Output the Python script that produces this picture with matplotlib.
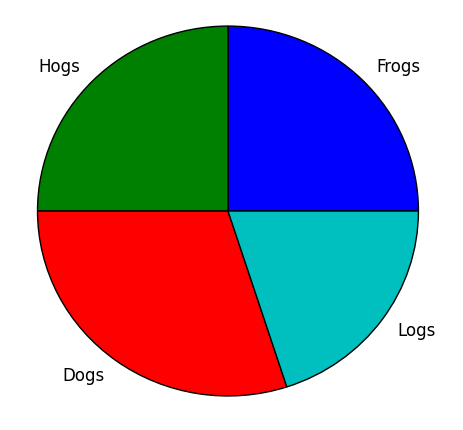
import matplotlib
matplotlib.use("Agg")
import matplotlib.pyplot as plt

labels = ["Frogs", "Hogs", "Dogs", "Logs"]
sizes = [25, 25, 30, 20]
colors = ["#0000ff", "#008000", "#ff0000", "#00bfbf"]

fig = plt.figure(figsize=(4.63, 4.30), dpi=100)
ax = fig.add_axes([0, 0, 1, 1])
wedges, texts = ax.pie(sizes, labels=labels, colors=colors, startangle=0,
                       labeldistance=1.1,
                       wedgeprops={"edgecolor": "black", "linewidth": 1},
                       textprops={"fontsize": 12})
ax.set_aspect("auto")
ax.set_xlim(-1.197, 1.234)
ax.set_ylim(-1.184, 1.141)
ax.axis("off")
fig.savefig("out.png", dpi=100)
